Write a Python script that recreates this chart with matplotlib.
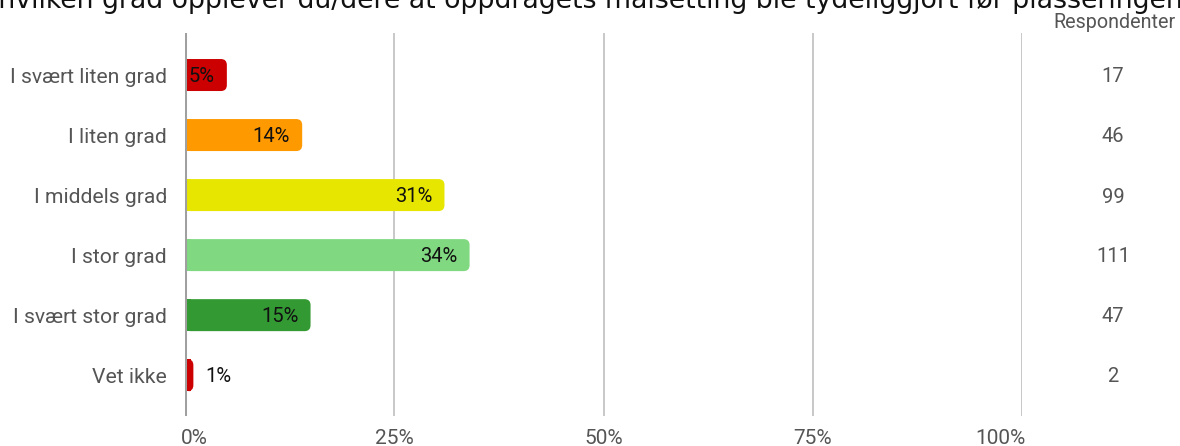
import matplotlib.pyplot as plt
from matplotlib.patches import FancyBboxPatch, Rectangle

categories = [
    "I svært liten grad",
    "I liten grad",
    "I middels grad",
    "I stor grad",
    "I svært stor grad",
    "Vet ikke",
]
shares = [5, 14, 31, 34, 15, 1]
respondents = [17, 46, 99, 111, 47, 2]
colors = ["#cc0000", "#ff9900", "#e6e600", "#80d880", "#339933", "#cc0000"]
tick_values = [0, 25, 50, 75, 100]
title = ("I hvilken grad opplever du/dere at oppdragets målsetting "
         "ble tydeliggjort før plasseringen?")

W, H = 1180, 446
fig = plt.figure(figsize=(W / 100, H / 100), dpi=100)

left_px, right_px = 185, 1022
top_px, bottom_px = 33, 416
ax = fig.add_axes([left_px / W, 1 - bottom_px / H,
                   (right_px - left_px) / W, (bottom_px - top_px) / H])

ylim_top, ylim_bottom = -0.7, 5.68
ax.set_xlim(0, 100)
ax.set_ylim(ylim_bottom, ylim_top)

px_x = 100 / (right_px - left_px)           # data units per pixel, x
px_y = (ylim_bottom - ylim_top) / (bottom_px - top_px)  # per pixel, y
aspect = px_y / px_x

bar_h = 32 * px_y
radius = 6 * px_x

for i, (val, col) in enumerate(zip(shares, colors)):
    y0 = i - bar_h / 2
    patch = FancyBboxPatch(
        (0, y0), val, bar_h,
        boxstyle=f"round,pad=0,rounding_size={radius}",
        mutation_aspect=aspect,
        facecolor=col, edgecolor="none", zorder=3,
    )
    ax.add_patch(patch)
    # square off the left side against the axis
    ax.add_patch(Rectangle((0, y0), min(val, radius), bar_h,
                           facecolor=col, edgecolor="none", zorder=3))

    label = f"{val}%"
    text_y = i + 1.5 * px_y
    if val >= 4:
        ax.text(val - 12 * px_x, text_y, label, ha="right", va="center",
                fontsize=14.5, family="Roboto", color="#111111", zorder=4)
    else:
        ax.text(val + 12 * px_x, text_y, label, ha="left", va="center",
                fontsize=14.5, family="Roboto", color="#111111", zorder=4)

    fig.text(1113 / W, 1 - (77 + 60 * i) / H, str(respondents[i]),
             ha="center", va="center", fontsize=14.5, family="Roboto",
             color="#555555")

for t in tick_values[1:]:
    ax.axvline(t, color="#c4c4c4", linewidth=1.3, zorder=1)
ax.axvline(0, color="#a0a0a0", linewidth=2.2, zorder=5)

for s in ax.spines.values():
    s.set_visible(False)
ax.set_xticks([])
ax.set_yticks(range(len(categories)))
ax.set_yticklabels(categories, fontsize=15.2, family="Roboto", color="#555555")
ax.tick_params(axis="y", length=0, pad=13)

# x tick labels below the axes, edge ones kept inside the plot width
tick_y = -(438 - bottom_px) / (bottom_px - top_px)
for t in tick_values:
    ha = "center"
    x = t
    if t == tick_values[0]:
        ha, x = "left", -4 * px_x
    elif t == tick_values[-1]:
        ha, x = "right", 100 + 4 * px_x
    ax.text(x, tick_y, f"{t}%", transform=ax.get_xaxis_transform(),
            ha=ha, va="center", fontsize=15, family="Roboto", color="#555555")

fig.text(1176 / W, 1 - 23 / H, "Respondenter", ha="right", va="center",
         fontsize=14.2, family="Roboto", color="#555555")

fig.text(0.5, 1 - 8 / H, title, ha="center", va="baseline",
         fontsize=19.3, family="DejaVu Sans", color="#111111")

fig.savefig("out.png", dpi=100)
